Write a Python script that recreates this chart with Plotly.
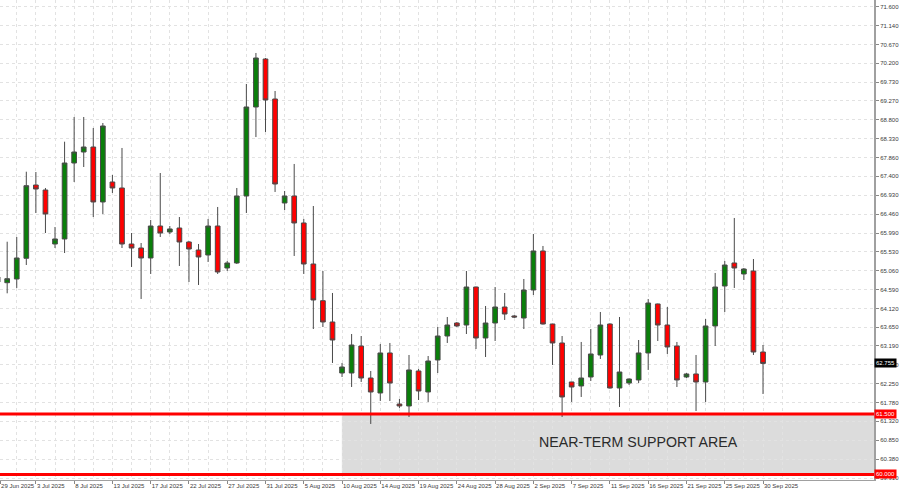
import plotly.graph_objects as go

# ---- data ----
OPEN = [64.90, 64.758, 64.85, 65.364, 67.182, 67.058, 65.718, 65.843, 67.728, 68.001,
        68.125, 66.761, 67.257, 67.108, 65.718, 65.619, 65.371, 66.165, 66.016, 66.115,
        65.768, 65.569, 65.445, 66.165, 65.123, 65.247, 66.909, 69.118, 70.309, 69.316,
        66.736, 66.909, 66.240, 65.222, 64.311, 63.783, 62.517, 62.517, 63.187, 62.393,
        62.021, 63.014, 61.748, 61.699, 62.567, 62.046, 62.840, 63.435, 63.758, 63.708,
        64.651, 63.386, 63.758, 64.155, 63.932, 63.882, 64.577, 65.545, 63.733, 63.262,
        62.294, 62.195, 62.418, 62.964, 63.733, 62.145, 62.269, 62.344, 63.014, 64.230,
        63.708, 63.187, 62.418, 62.493, 62.294, 63.684, 64.676, 65.247, 64.974, 65.048,
        63.038]
HIGH = [64.999, 65.775, 65.892, 67.512, 67.505, 67.108, 66.140, 68.257, 68.870, 68.870,
        68.597, 68.721, 67.431, 68.101, 65.991, 65.743, 66.314, 67.480, 66.165, 66.388,
        65.793, 65.718, 66.339, 66.637, 65.297, 67.108, 69.689, 70.458, 70.334, 69.515,
        67.034, 67.704, 66.339, 66.661, 65.048, 64.503, 62.766, 63.485, 63.435, 62.567,
        63.237, 63.262, 61.872, 62.964, 62.617, 62.939, 63.659, 63.907, 63.783, 65.048,
        64.660, 64.180, 64.651, 64.503, 63.957, 64.850, 65.967, 65.669, 63.740, 63.435,
        62.300, 63.287, 63.609, 64.031, 63.750, 63.907, 62.380, 63.336, 64.354, 64.240,
        64.155, 63.287, 62.517, 62.964, 63.857, 64.999, 65.297, 66.364, 65.123, 65.346,
        63.212]
LOW = [64.676, 64.495, 64.627, 65.197, 66.488, 65.991, 65.619, 65.495, 67.257, 67.629,
       66.388, 66.463, 66.984, 65.619, 65.148, 64.354, 64.974, 65.892, 65.967, 65.173,
       64.775, 64.701, 65.272, 64.974, 65.048, 65.222, 66.488, 68.373, 68.498, 67.009,
       66.562, 65.421, 64.974, 63.609, 63.659, 62.766, 62.418, 62.170, 62.294, 61.252,
       61.823, 61.823, 61.649, 61.426, 61.847, 61.798, 62.517, 63.262, 63.659, 63.485,
       63.113, 62.914, 63.311, 63.833, 63.882, 63.609, 64.453, 63.720, 62.716, 61.426,
       61.798, 61.922, 62.319, 62.865, 62.130, 61.674, 62.220, 62.269, 62.592, 63.311,
       62.989, 62.170, 62.393, 61.574, 61.798, 63.187, 64.031, 64.627, 64.825, 62.964,
       61.996]
CLOSE = [64.775, 64.857, 65.371, 67.165, 67.083, 66.463, 65.843, 67.728, 68.001, 68.125,
         66.761, 68.646, 67.108, 65.718, 65.619, 65.371, 66.165, 65.991, 66.091, 65.768,
         65.594, 65.396, 66.165, 65.024, 65.247, 66.909, 69.118, 70.334, 69.292, 67.207,
         66.909, 66.240, 65.222, 64.329, 63.783, 63.336, 62.666, 63.212, 62.393, 62.046,
         63.014, 62.269, 61.699, 62.592, 62.071, 62.815, 63.435, 63.708, 63.684, 64.651,
         63.386, 63.758, 64.155, 63.981, 63.907, 64.577, 65.545, 63.733, 63.262, 61.922,
         62.170, 62.393, 62.989, 63.708, 62.145, 62.542, 62.368, 63.014, 64.254, 63.708,
         63.163, 62.344, 62.493, 62.294, 63.684, 64.651, 65.197, 65.123, 65.098, 63.038,
         62.755]

DATE_TICKS = ["29 Jun 2025", "3 Jul 2025", "8 Jul 2025", "13 Jul 2025", "17 Jul 2025",
              "22 Jul 2025", "27 Jul 2025", "31 Jul 2025", "5 Aug 2025", "10 Aug 2025",
              "14 Aug 2025", "19 Aug 2025", "24 Aug 2025", "28 Aug 2025", "2 Sep 2025",
              "7 Sep 2025", "11 Sep 2025", "16 Sep 2025", "21 Sep 2025", "25 Sep 2025",
              "30 Sep 2025"]
BARS_PER_TICK = 4

PRICE_TICKS = [71.600, 71.140, 70.670, 70.200, 69.730, 69.270, 68.800, 68.330, 67.860,
               67.400, 66.930, 66.460, 65.990, 65.530, 65.060, 64.590, 64.120, 63.650,
               63.190, 62.720, 62.250, 61.780, 61.320, 60.850, 60.380, 59.910]

SUPPORT_TOP = 61.500
SUPPORT_BOTTOM = 60.000
SUPPORT_START_BAR = 36
LAST_PRICE = CLOSE[-1]
ZONE_LABEL = "NEAR-TERM SUPPORT AREA"

# ---- figure ----
X_RANGE = [0.25, 91.6]
Y_RANGE = [59.862, 71.773]
FONT = "Liberation Sans, Arial, sans-serif"

x = list(range(len(OPEN)))
tickvals = [i * BARS_PER_TICK for i in range(len(DATE_TICKS))]
tickvals[0] = max(tickvals[0], X_RANGE[0] + 0.01)  # first label sits at the left edge
minorvals = [i * BARS_PER_TICK + BARS_PER_TICK // 2 for i in range(len(DATE_TICKS))]

fig = go.Figure()
fig.add_trace(go.Candlestick(
    x=x, open=OPEN, high=HIGH, low=LOW, close=CLOSE,
    increasing=dict(fillcolor="#0a7f0a", line=dict(color="#4a4a4a", width=1)),
    decreasing=dict(fillcolor="#ff0000", line=dict(color="#4a4a4a", width=1)),
    whiskerwidth=0, showlegend=False, hoverinfo="skip",
))

# support zone
fig.add_shape(type="rect", xref="x", yref="y", x0=SUPPORT_START_BAR - 0.02, x1=X_RANGE[1],
              y0=SUPPORT_BOTTOM, y1=SUPPORT_TOP, fillcolor="#dcdcdc",
              line=dict(width=0), layer="below")
for lvl in (SUPPORT_TOP, SUPPORT_BOTTOM):
    fig.add_shape(type="line", xref="paper", yref="y", x0=0, x1=1, y0=lvl, y1=lvl,
                  line=dict(color="#ff0000", width=3), layer="above")

fig.add_annotation(xref="x", yref="y",
                   x=(SUPPORT_START_BAR + X_RANGE[1]) / 2 + 3.2,
                   y=(SUPPORT_TOP + SUPPORT_BOTTOM) / 2 + 0.05,
                   text=ZONE_LABEL, showarrow=False,
                   font=dict(family=FONT, size=14.2, color="#2b2b2b"))

# axis price labels
for val, bg in ((SUPPORT_TOP, "#ff0000"), (SUPPORT_BOTTOM, "#ff0000"), (LAST_PRICE, "#000000")):
    fig.add_annotation(xref="paper", yref="y", x=1, y=val, xanchor="left", xshift=0,
                       text=f"{val:.3f}", showarrow=False, bgcolor=bg, borderpad=1,
                       font=dict(family=FONT, size=6, color="#ffffff"))

fig.update_layout(
    width=900, height=489,
    margin=dict(l=0, r=26, t=0, b=9, autoexpand=False),
    paper_bgcolor="#ffffff", plot_bgcolor="#ffffff",
    font=dict(family=FONT, size=6, color="#3a3a3a"),
    xaxis=dict(
        range=X_RANGE, tickvals=tickvals, ticktext=DATE_TICKS, tickangle=0,
        ticks="outside", ticklen=3, tickcolor="#888888",
        ticklabelposition="outside right", automargin=False,
        showline=True, linecolor="#a0a0a0", linewidth=1,
        showgrid=True, gridcolor="#e2e2e2", griddash="dot", gridwidth=1,
        minor=dict(tickvals=minorvals, showgrid=True, gridcolor="#e2e2e2", griddash="dot"),
        rangeslider=dict(visible=False), zeroline=False, fixedrange=True,
        tickfont=dict(family=FONT, size=6, color="#3a3a3a"),
    ),
    yaxis=dict(
        range=Y_RANGE, side="right", tickvals=PRICE_TICKS,
        ticktext=[f"{v:.3f}" for v in PRICE_TICKS], automargin=False,
        ticks="outside", ticklen=3, tickcolor="#888888",
        showline=True, linecolor="#a0a0a0", linewidth=2,
        showgrid=True, gridcolor="#e2e2e2", griddash="dot", gridwidth=1,
        zeroline=False, fixedrange=True,
        tickfont=dict(family=FONT, size=6, color="#3a3a3a"),
    ),
)

fig.write_html("out.html", config={"displayModeBar": False, "staticPlot": True},
               post_script="document.body.style.margin='0';document.body.style.overflow='hidden';")
